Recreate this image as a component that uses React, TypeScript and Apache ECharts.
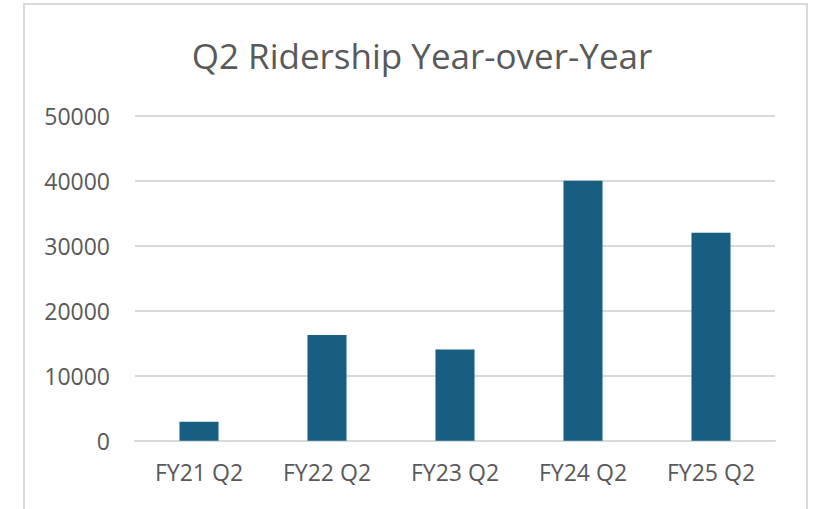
import React, { useEffect, useRef } from "react";
import * as echarts from "echarts";

const categories = ["FY21 Q2", "FY22 Q2", "FY23 Q2", "FY24 Q2", "FY25 Q2"];
const ridership = [2900, 16250, 14050, 40000, 32000];
const yMin = 0;
const yMax = 50000;
const yInterval = 10000;

const TEXT = "#595959";
const FONT = "'Open Sans', 'Noto Sans', sans-serif";

export default function App() {
  const ref = useRef<HTMLDivElement>(null);
  useEffect(() => {
    if (!ref.current) return;
    const chart = echarts.init(ref.current, undefined, { renderer: "svg" });
    chart.setOption({
      animation: false,
      backgroundColor: "#ffffff",
      title: {
        text: "Q2 Ridership Year-over-Year",
        left: 417,
        top: 33,
        textAlign: "center",
        textStyle: { color: TEXT, fontFamily: FONT, fontSize: 35, fontWeight: "normal" },
      },
      graphic: [
        {
          type: "rect",
          shape: { x: 24, y: 4, width: 783, height: 520 },
          style: { fill: "none", stroke: "#d9d9d9", lineWidth: 2 },
          silent: true,
        },
      ],
      grid: { left: 135, right: 40, top: 115.7, bottom: 68.3, containLabel: false },
      xAxis: {
        type: "category",
        data: categories,
        axisLine: { show: true, lineStyle: { color: "#d9d9d9", width: 2 } },
        axisTick: { show: false },
        axisLabel: { color: TEXT, fontFamily: FONT, fontSize: 23, margin: 20 },
      },
      yAxis: {
        type: "value",
        min: yMin,
        max: yMax,
        interval: yInterval,
        axisLine: { show: false },
        axisTick: { show: false },
        axisLabel: {
          color: TEXT,
          fontFamily: FONT,
          fontSize: 23,
          margin: 25,
          formatter: (v: number) => String(v),
        },
        splitLine: { lineStyle: { color: "#d9d9d9", width: 2 } },
      },
      series: [
        {
          type: "bar",
          data: ridership,
          barWidth: "30.5%",
          itemStyle: { color: "#175e80" },
        },
      ],
    });
    return () => chart.dispose();
  }, []);
  return (
    <div
      ref={ref}
      style={{ position: "fixed", left: 0, top: 0, width: 815, height: 509 }}
    />
  );
}
